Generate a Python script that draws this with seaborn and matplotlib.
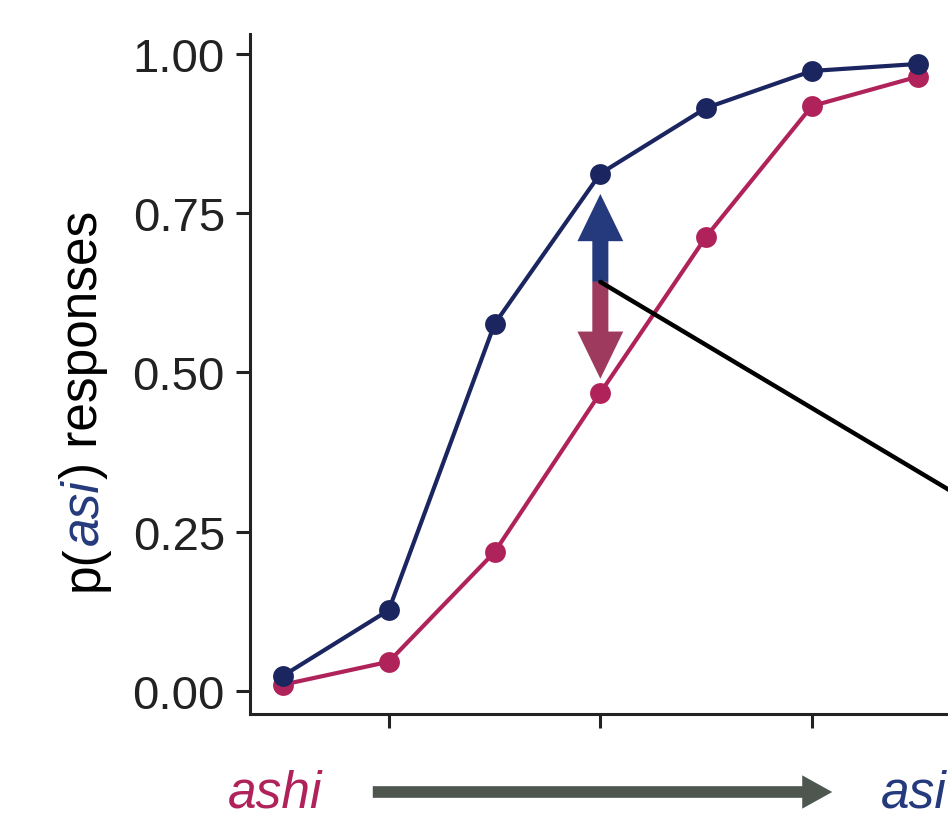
import numpy as np
import pandas as pd
import matplotlib
matplotlib.use('Agg')
import matplotlib.pyplot as plt
import seaborn as sns

# data
steps = [1, 2, 3, 4, 5, 6, 7]
p_asi_pink = [0.010, 0.046, 0.218, 0.468, 0.713, 0.918, 0.964]
p_asi_navy = [0.024, 0.127, 0.576, 0.812, 0.915, 0.973, 0.984]
conditions = ['ashi context', 'asi context']
y_ticks = [0.00, 0.25, 0.50, 0.75, 1.00]
x_ticks = [2, 4, 6]

# arrow annotation values
shift_x = 4
shift_base = 0.642
shift_up = 0.780
shift_down = 0.490

PINK = '#b0235a'
NAVY = '#1b2560'
ARROW_BLUE = '#253a7c'
ARROW_PINK = '#9e3a5e'
GREY = '#4d5750'

sns.set_theme(style='ticks')
plt.rcParams['font.family'] = ['Liberation Sans', 'DejaVu Sans']

df = pd.DataFrame({
    'step': steps * 2,
    'p': p_asi_pink + p_asi_navy,
    'condition': [conditions[0]] * len(steps) + [conditions[1]] * len(steps),
})

fig = plt.figure(figsize=(9.48, 8.28), dpi=100)
ax = fig.add_axes([250 / 948, 113 / 828, 710 / 948, 680 / 828])

sns.lineplot(data=df, x='step', y='p', hue='condition', hue_order=conditions,
             palette=[PINK, NAVY], marker='o', markersize=15, markeredgewidth=0,
             linewidth=3.0, legend=False, ax=ax)

ax.set_xlim(0.688, 7.4)
ax.set_ylim(-0.036, 1.031)
ax.set_yticks(y_ticks)
ax.set_yticklabels([f'{v:.2f}' for v in y_ticks])
ax.set_xticks(x_ticks)
ax.set_xticklabels([])
ax.set_xlabel('')
ax.set_ylabel('')
sns.despine(ax=ax)
for s in ['left', 'bottom']:
    ax.spines[s].set_linewidth(2.2)
    ax.spines[s].set_color('#222222')
ax.tick_params(axis='both', length=10, width=2.2, color='#222222',
               labelsize=34, labelcolor='#222222', pad=8)

# up / down arrows
style = 'simple,head_length=1.0,head_width=0.97,tail_width=0.34'
ax.annotate('', xy=(shift_x, shift_up), xytext=(shift_x, shift_base),
            arrowprops=dict(arrowstyle=style, color=ARROW_BLUE, lw=0,
                            shrinkA=0, shrinkB=0, mutation_scale=34))
ax.annotate('', xy=(shift_x, shift_down), xytext=(shift_x, shift_base),
            arrowprops=dict(arrowstyle=style, color=ARROW_PINK, lw=0,
                            shrinkA=0, shrinkB=0, mutation_scale=34))
ax.plot([shift_x, 7.6], [shift_base, shift_base - 0.099 * 3.6], color='black',
        lw=3.2, clip_on=False, zorder=5)

# y label with coloured part
fig.canvas.draw()
renderer = fig.canvas.get_renderer()
pieces = [('p(', 'black', 'normal'), ('asi', ARROW_BLUE, 'italic'),
          (') responses', 'black', 'normal')]
xl = 84 / 948
texts = []
for txt, col, st in pieces:
    t = fig.text(xl, 0, txt, rotation=90, color=col, style=st, fontsize=37,
                 ha='left', va='center', rotation_mode='anchor')
    texts.append(t)
heights = [t.get_window_extent(renderer).height for t in texts]
total = sum(heights)
y0 = (828 - 401 - total / 2) / 828
for t, h in zip(texts, heights):
    t.set_position((xl, y0))
    y0 += h / 828

# continuum arrow below the axis
fig.text(228 / 948, (828 - 808) / 828, 'ashi', color=PINK, style='italic',
         fontsize=37, va='baseline', ha='left')
fig.text(881 / 948, (828 - 808) / 828, 'asi', color=ARROW_BLUE, style='italic',
         fontsize=37, va='baseline', ha='left')
fig.patches.append(matplotlib.patches.FancyArrowPatch(
    (370 / 948, (828 - 793) / 828), (835 / 948, (828 - 793) / 828),
    transform=fig.transFigure,
    arrowstyle='simple,head_length=0.9,head_width=1.0,tail_width=0.35',
    mutation_scale=24, color=GREY, lw=0))

fig.savefig('out.png', dpi=100)
